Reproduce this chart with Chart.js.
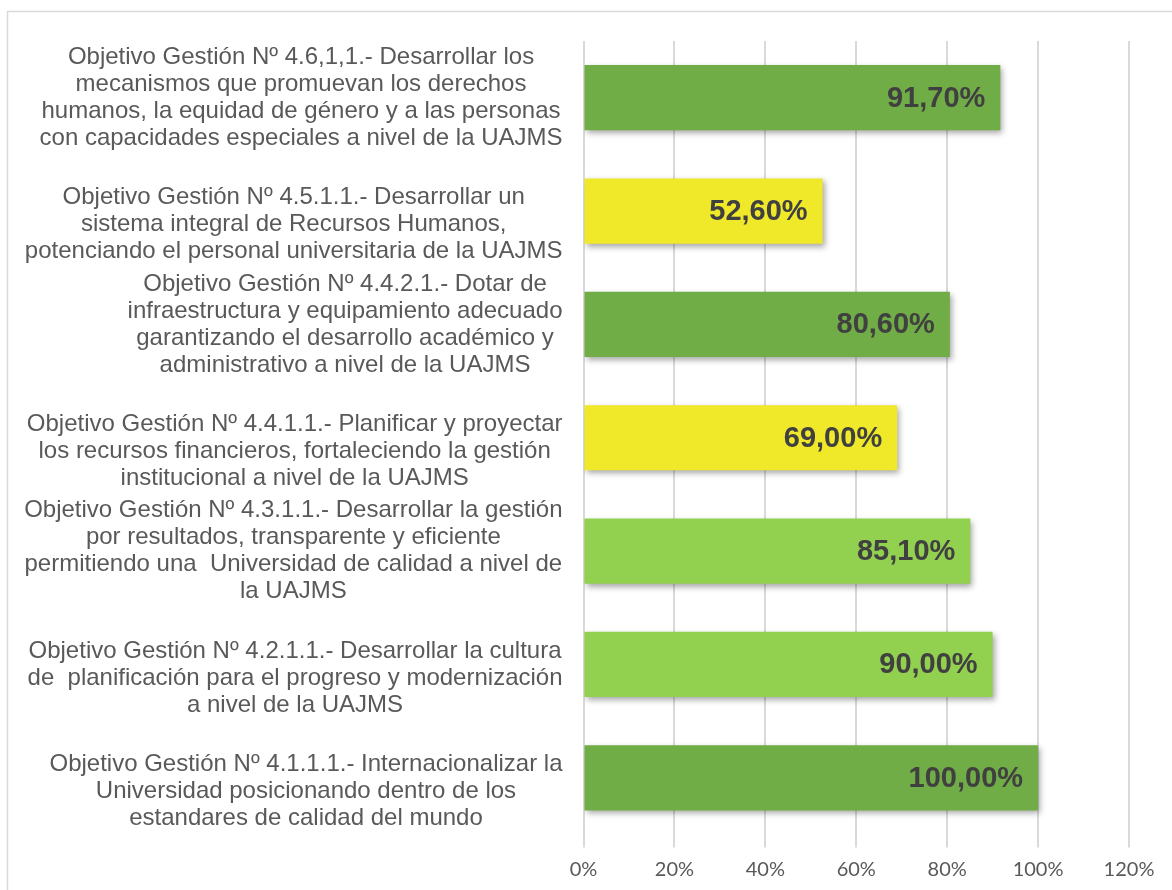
<!DOCTYPE html>
<html>
<head>
<meta charset="utf-8">
<script src="https://cdn.jsdelivr.net/npm/chart.js@4.4.0/dist/chart.umd.min.js"></script>
<style>
  html, body { margin: 0; padding: 0; background: #ffffff; }
  #wrap { width: 1172px; height: 890px; }
</style>
</head>
<body>
<div id="wrap"><canvas id="objChart" width="1172" height="890"></canvas></div>
<script>
// --- Data ---
const categories = [
  ["Objetivo Gestión Nº 4.6,1,1.- Desarrollar los", "mecanismos que promuevan los derechos", "humanos, la equidad de género y a las personas", "con capacidades especiales a nivel de la UAJMS"],
  ["Objetivo Gestión Nº 4.5.1.1.- Desarrollar un", "sistema integral de Recursos Humanos,", "potenciando el personal universitaria de la UAJMS"],
  ["Objetivo Gestión Nº 4.4.2.1.- Dotar de", "infraestructura y equipamiento adecuado", "garantizando el desarrollo académico y", "administrativo a nivel de la UAJMS"],
  ["Objetivo Gestión Nº 4.4.1.1.- Planificar y proyectar", "los recursos financieros, fortaleciendo la gestión", "institucional a nivel de la UAJMS"],
  ["Objetivo Gestión Nº 4.3.1.1.- Desarrollar la gestión", "por resultados, transparente y eficiente", "permitiendo una  Universidad de calidad a nivel de", "la UAJMS"],
  ["Objetivo Gestión Nº 4.2.1.1.- Desarrollar la cultura", "de  planificación para el progreso y modernización", "a nivel de la UAJMS"],
  ["Objetivo Gestión Nº 4.1.1.1.- Internacionalizar la", "Universidad posicionando dentro de los", "estandares de calidad del mundo"]
];
const values = [91.7, 52.6, 80.6, 69.0, 85.1, 90.0, 100.0];
const barColors = ["#70ad47", "#f0e92a", "#70ad47", "#f0e92a", "#92d050", "#92d050", "#70ad47"];
const tickValues = [0, 20, 40, 60, 80, 100, 120];

// --- Helpers ---
const pct = v => v.toFixed(2).replace(".", ",") + "%";

// frame + white background
const framePlugin = {
  id: "frame",
  beforeDraw(chart) {
    const c = chart.ctx;
    c.save();
    c.fillStyle = "#ffffff";
    c.fillRect(0, 0, chart.width, chart.height);
    c.strokeStyle = "#d9d9d9";
    c.lineWidth = 1.5;
    c.beginPath();
    c.moveTo(7.5, chart.height);
    c.lineTo(7.5, 11.5);
    c.lineTo(chart.width, 11.5);
    c.stroke();
    c.restore();
  }
};

// soft drop shadow under bars
const shadowPlugin = {
  id: "barShadow",
  beforeDatasetsDraw(chart) {
    const c = chart.ctx;
    c.save();
    c.shadowColor = "rgba(0,0,0,0.35)";
    c.shadowBlur = 6;
    c.shadowOffsetX = 2;
    c.shadowOffsetY = 3;
  },
  afterDatasetsDraw(chart) {
    chart.ctx.restore();
  }
};

// value labels inside the bar end
const valueLabels = {
  id: "valueLabels",
  afterDatasetsDraw(chart) {
    const c = chart.ctx;
    const meta = chart.getDatasetMeta(0);
    c.save();
    c.font = "bold 29px 'Liberation Sans', Arial, sans-serif";
    c.fillStyle = "#404040";
    c.textAlign = "right";
    c.textBaseline = "middle";
    meta.data.forEach((bar, i) => {
      c.fillText(pct(values[i]), bar.x - 15, bar.y + 1);
    });
    c.restore();
  }
};

// category labels: each block centred line by line, right aligned to the axis
const categoryLabels = {
  id: "categoryLabels",
  afterDraw(chart) {
    const c = chart.ctx;
    const y = chart.scales.y;
    const right = chart.chartArea.left - 21;
    const lh = 27;
    c.save();
    c.font = "24px 'Liberation Sans', Arial, sans-serif";
    c.fillStyle = "#595959";
    c.textAlign = "center";
    c.textBaseline = "middle";
    categories.forEach((lines, i) => {
      const cy = y.getPixelForTick(i);
      const w = Math.max(...lines.map(l => c.measureText(l).width));
      const cx = right - w / 2;
      const n = lines.length;
      lines.forEach((line, j) => {
        c.fillText(line, cx, cy + (1.5 - (n - 1 - j)) * lh);
      });
    });
    c.restore();
  }
};

const ctx = document.getElementById("objChart").getContext("2d");

const objChart = new Chart(ctx, {
  type: "bar",
  data: {
    labels: categories,
    datasets: [
      {
        data: values,
        backgroundColor: barColors,
        borderWidth: 0,
        barPercentage: 0.575,
        categoryPercentage: 1.0
      }
    ]
  },
  options: {
    indexAxis: "y",
    responsive: false,
    animation: false,
    layout: { padding: { left: 0, top: 41, right: 43, bottom: 0 } },
    plugins: {
      legend: { display: false },
      tooltip: { enabled: false }
    },
    scales: {
      x: {
        min: 0,
        max: 120,
        afterBuildTicks(scale) {
          scale.ticks = tickValues.map(v => ({ value: v }));
        },
        afterFit(scale) { scale.height = 55.5; },
        grid: {
          color: "#d9d9d9",
          lineWidth: 2,
          drawTicks: true,
          tickLength: 13,
          tickColor: "#d9d9d9"
        },
        border: { display: false },
        ticks: {
          color: "#595959",
          padding: 10,
          font: { family: "Lato, 'Liberation Sans', sans-serif", size: 20 },
          callback: v => v + "%"
        }
      },
      y: {
        grid: { display: false },
        border: { display: false },
        ticks: { display: false },
        afterFit(scale) { scale.width = 583.5; }
      }
    }
  },
  plugins: [framePlugin, shadowPlugin, valueLabels, categoryLabels]
});
</script>
</body>
</html>
